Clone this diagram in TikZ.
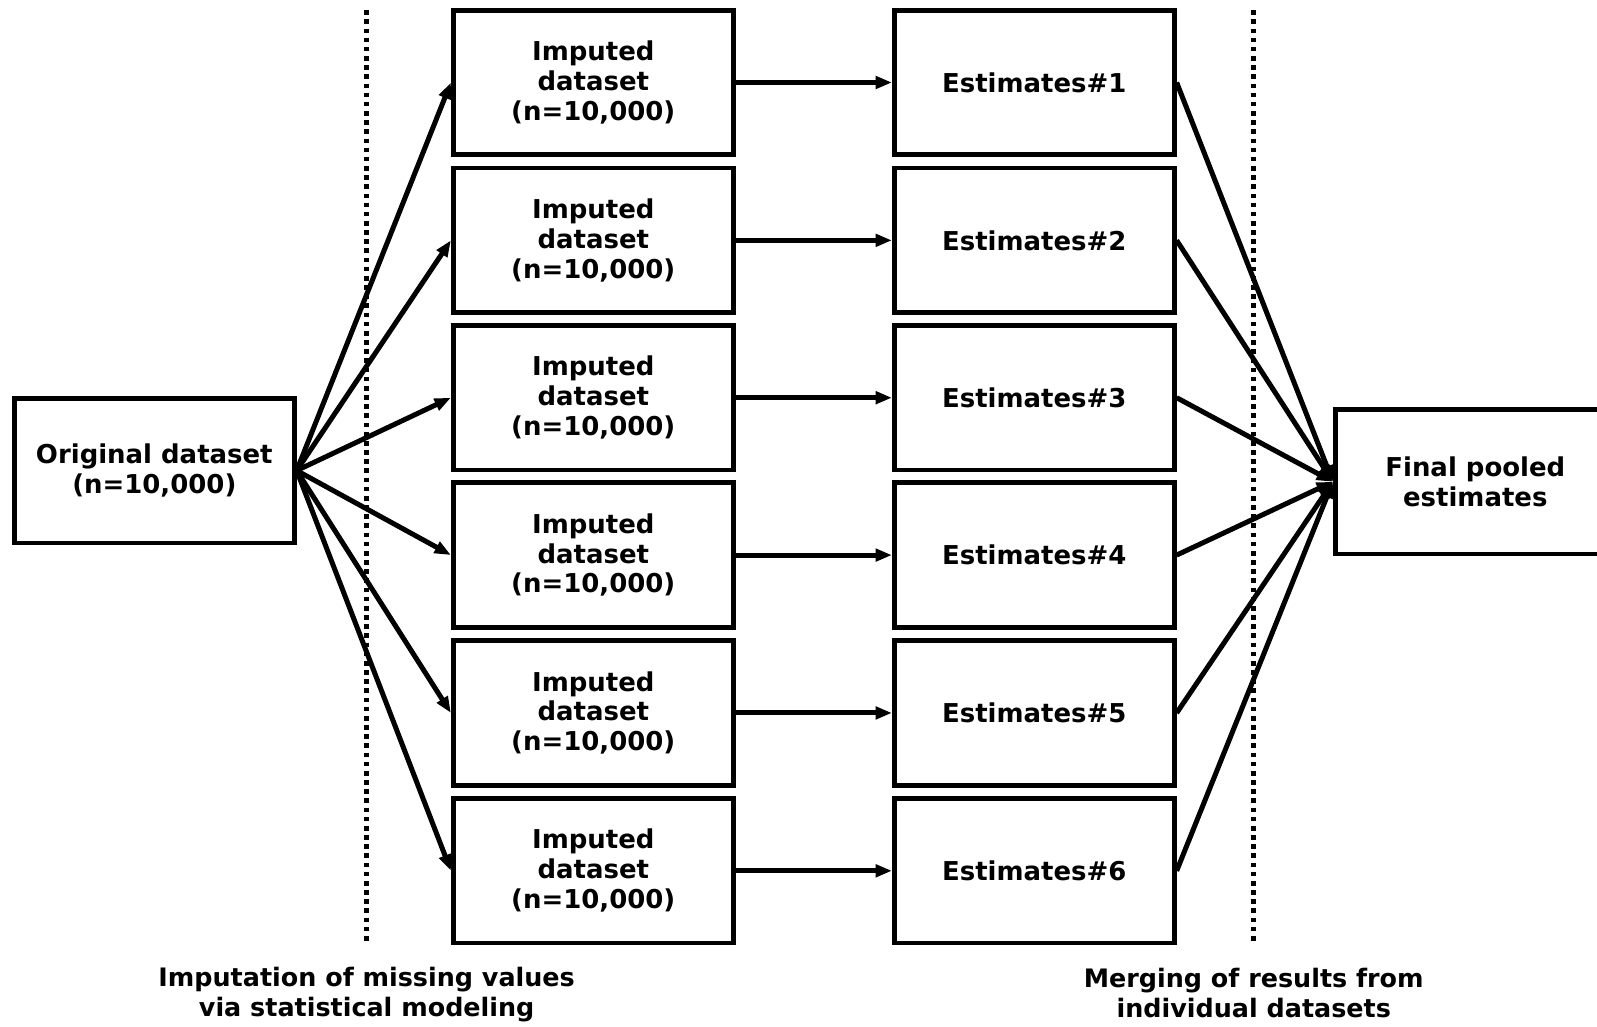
\documentclass[tikz,border=0pt]{standalone}
\usepackage{fontspec}
\setmainfont{DejaVu Sans}
\usepackage{tikz}
\usetikzlibrary{arrows.meta}

\begin{document}
\begin{tikzpicture}[align=center,
  box/.style={rectangle, draw=black, line width=1.3pt, fill=white,
              minimum width=2.75cm, minimum height=1.42cm, inner sep=0pt,
              font=\fontsize{7.25}{8.35}\selectfont\bfseries},
  lbl/.style={font=\fontsize{7.1}{8.3}\selectfont\bfseries},
  sep/.style={line width=1.3pt, dash pattern=on 0.045cm off 0.045cm},
  arr/.style={-{Triangle[length=0.16cm, width=0.12cm]}, line width=1.4pt},
]
\useasboundingbox (0,0) rectangle (15.68,-10.08);

%% dotted separators
\coordinate (s1t) at (3.60,-0.10);
\coordinate (s1b) at (3.60,-9.26);
\coordinate (s2t) at (12.31,-0.10);
\coordinate (s2b) at (12.31,-9.26);
\draw[sep] (s1t) -- (s1b);
\draw[sep] (s2t) -- (s2b);

%% original dataset
\node[box] (orig) at (1.515,-4.62) {Original dataset\\(n=10,000)};

%% imputed datasets
\node[box] (imp1) at (5.825,-0.81)  {Imputed\\dataset\\(n=10,000)};
\node[box] (imp2) at (5.825,-2.36)  {Imputed\\dataset\\(n=10,000)};
\node[box] (imp3) at (5.825,-3.905) {Imputed\\dataset\\(n=10,000)};
\node[box] (imp4) at (5.825,-5.45)  {Imputed\\dataset\\(n=10,000)};
\node[box] (imp5) at (5.825,-7.00)  {Imputed\\dataset\\(n=10,000)};
\node[box] (imp6) at (5.825,-8.55)  {Imputed\\dataset\\(n=10,000)};

%% estimates
\node[box] (est1) at (10.155,-0.81)  {Estimates\#1};
\node[box] (est2) at (10.155,-2.36)  {Estimates\#2};
\node[box] (est3) at (10.155,-3.905) {Estimates\#3};
\node[box] (est4) at (10.155,-5.45)  {Estimates\#4};
\node[box] (est5) at (10.155,-7.00)  {Estimates\#5};
\node[box] (est6) at (10.155,-8.55)  {Estimates\#6};

%% final
\node[box] (final) at (14.485,-4.73) {Final pooled\\estimates};

%% bottom labels
\node[lbl] (lblL) at (3.60,-9.765)  {Imputation of missing values\\via statistical modeling};
\node[lbl] (lblR) at (12.31,-9.75) {Merging of results from\\individual datasets};

%% arrows
\draw[arr] (orig.east) -- (imp1.west);
\draw[arr] (orig.east) -- (imp2.west);
\draw[arr] (orig.east) -- (imp3.west);
\draw[arr] (orig.east) -- (imp4.west);
\draw[arr] (orig.east) -- (imp5.west);
\draw[arr] (orig.east) -- (imp6.west);

\draw[arr] (imp1) -- (est1);
\draw[arr] (imp2) -- (est2);
\draw[arr] (imp3) -- (est3);
\draw[arr] (imp4) -- (est4);
\draw[arr] (imp5) -- (est5);
\draw[arr] (imp6) -- (est6);

\draw[arr] (est1.east) -- (final.west);
\draw[arr] (est2.east) -- (final.west);
\draw[arr] (est3.east) -- (final.west);
\draw[arr] (est4.east) -- (final.west);
\draw[arr] (est5.east) -- (final.west);
\draw[arr] (est6.east) -- (final.west);

\end{tikzpicture}
\end{document}
